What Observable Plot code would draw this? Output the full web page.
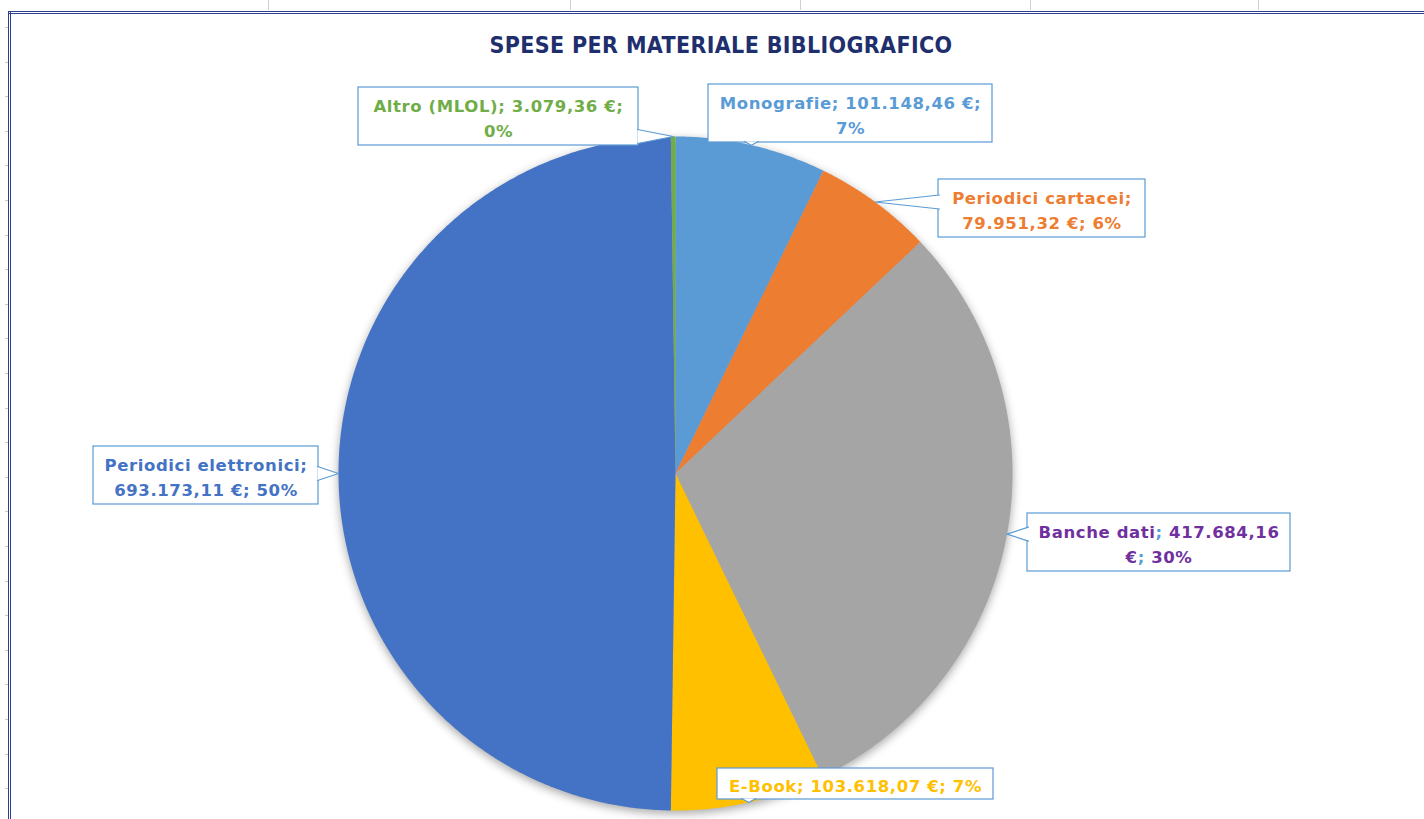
<!DOCTYPE html>
<html>
<head>
<meta charset="utf-8">
<script src="https://cdn.jsdelivr.net/npm/d3@7"></script>
<script src="https://cdn.jsdelivr.net/npm/@observablehq/plot@0.6"></script>
<style>
  html, body { margin: 0; padding: 0; background: #fff; }
  #wrap { position: relative; width: 1424px; height: 819px; overflow: hidden; }
  #wrap svg { display: block; }
  #title { position: absolute; left: 0; width: 1442px; top: 32px; text-align: center;
    font-family: "DejaVu Sans Condensed", "DejaVu Sans", sans-serif; font-weight: bold;
    font-size: 23px; color: #1F2F6E; letter-spacing: 0.35px; }
  .frameTop { position: absolute; left: 9px; right: 0; top: 11px; height: 3px; border-top: 1px solid #2E3F8F; border-bottom: 1px solid #2E3F8F; box-sizing: border-box; }
  .frameLeft { position: absolute; left: 8px; top: 11px; bottom: 0; width: 3px; border-left: 1px solid #2E3F8F; border-right: 1px solid #2E3F8F; box-sizing: border-box; }
  .gridV { position: absolute; top: 0; height: 10px; width: 1px; background: #d0d0d0; }
  .gridH { position: absolute; left: 5px; width: 4px; height: 1px; background: #c8c8c8; }
</style>
</head>
<body>
<div id="wrap"></div>
<script>
// ---- data ----
const categories = ["Monografie", "Periodici cartacei", "Banche dati", "E-Book", "Periodici elettronici", "Altro (MLOL)"];
const values = [101148.46, 79951.32, 417684.16, 103618.07, 693173.11, 3079.36];
const sliceColors = ["#5B9BD5", "#ED7D31", "#A5A5A5", "#FFC000", "#4472C4", "#70AD47"];
const labelColors = ["#5B9BD5", "#ED7D31", "#7030A0", "#FFC000", "#4472C4", "#70AD47"];
const separatorColors = ["#5B9BD5", "#ED7D31", "#5B9BD5", "#FFC000", "#4472C4", "#70AD47"];
const titleText = "SPESE PER MATERIALE BIBLIOGRAFICO";

// ---- layout (pixels) ----
const W = 1424, H = 819;
const pie = {cx: 675, cy: 473, r: 337};
// label boxes [x1, y1, x2, y2] and word-wrap position
const labelBoxes = [
  [708, 84, 992, 142],
  [938, 179, 1145, 237],
  [1027, 513, 1290, 571],
  [717, 768, 993, 799],
  [93, 446, 318, 504],
  [358, 87, 638, 145]
];
const labelBreaks = [2, 1, "num", -1, 1, 2];

// ---- computations ----
const total = d3.sum(values);
const loc = d3.formatLocale({decimal: ",", thousands: ".", grouping: [3], currency: ["", ""]});
const fmt = loc.format(",.2f");
const arcs = d3.pie().sort(null).startAngle(0).endAngle(2 * Math.PI)(values);
const px = (a, rr) => pie.cx + rr * Math.sin(a);
const py = (a, rr) => pie.cy - rr * Math.cos(a);

const slicePts = [];
arcs.forEach((a, i) => {
  const n = Math.max(2, Math.ceil((a.endAngle - a.startAngle) / (Math.PI / 360)));
  slicePts.push({k: i, x: pie.cx, y: pie.cy, c: sliceColors[i]});
  for (let j = 0; j <= n; j++) {
    const t = a.startAngle + (a.endAngle - a.startAngle) * j / n;
    slicePts.push({k: i, x: px(t, pie.r), y: py(t, pie.r), c: sliceColors[i]});
  }
  slicePts.push({k: i, x: pie.cx, y: pie.cy, c: sliceColors[i]});
});

const labels = arcs.map((a, i) => {
  const pct = Math.round(values[i] / total * 100) + "%";
  const val = fmt(values[i]) + " €";
  const parts = [categories[i], val, pct];
  let text;
  const b = labelBreaks[i];
  if (b === "num") text = categories[i] + "; " + fmt(values[i]) + "\n€; " + pct;
  else if (b === -1) text = parts.join("; ");
  else text = parts.slice(0, b).join("; ") + ";\n" + parts.slice(b).join("; ");
  const [x1, y1, x2, y2] = labelBoxes[i];
  const mid = (a.startAngle + a.endAngle) / 2;
  const tip = [px(mid, pie.r), py(mid, pie.r)];
  const nx = Math.min(Math.max(tip[0], x1), x2), ny = Math.min(Math.max(tip[1], y1), y2);
  let base;
  const hw = 7;
  if (nx === x1 || nx === x2) {
    const yy = Math.min(Math.max(ny, y1 + hw), y2 - hw);
    const xin = nx === x1 ? x1 + 1 : x2 - 1;
    base = [[xin, yy - hw], [xin, yy + hw]];
  } else {
    const xx = Math.min(Math.max(nx, x1 + hw), x2 - hw);
    const yin = ny === y1 ? y1 + 1 : y2 - 1;
    base = [[xx - hw, yin], [xx + hw, yin]];
  }
  return {i, text, color: labelColors[i], x1, y1, x2, y2, cx: (x1 + x2) / 2, cy: (y1 + y2) / 2, tip, base};
});
const wedgePts = labels.flatMap(l => [
  {k: l.i, x: l.base[0][0], y: l.base[0][1]},
  {k: l.i, x: l.tip[0], y: l.tip[1]},
  {k: l.i, x: l.base[1][0], y: l.base[1][1]}
]);

const font = "'DejaVu Sans', sans-serif";
const chart = Plot.plot({
  width: W, height: H,
  margin: 0,
  x: {domain: [0, W], range: [0, W], axis: null},
  y: {domain: [0, H], range: [0, H], axis: null},
  marks: [
    Plot.line(slicePts, {x: "x", y: "y", z: "k", fill: "c", stroke: "none", curve: "linear"}),
    Plot.rect(labels, {x1: "x1", x2: "x2", y1: "y1", y2: "y2", fill: "white", stroke: "#5B9BD5", strokeWidth: 1.2}),
    Plot.line(wedgePts, {x: "x", y: "y", z: "k", fill: "white", stroke: "#5B9BD5", strokeWidth: 1.2, curve: "linear"}),
    Plot.text(labels, {x: "cx", y: "cy", text: "text", fill: "color", fontSize: 16.5, fontWeight: "bold",
      fontFamily: font, lineHeight: 1.5, textAnchor: "middle", lineAnchor: "middle"})
  ]
});
const wrap = document.getElementById("wrap");
[268, 570, 800, 1030, 1258].forEach(x => { const d = document.createElement("div"); d.className = "gridV"; d.style.left = x + "px"; wrap.appendChild(d); });
for (let y = 27; y < H; y += 34.6) { const d = document.createElement("div"); d.className = "gridH"; d.style.top = Math.round(y) + "px"; wrap.appendChild(d); }
wrap.appendChild(chart);
const ft = document.createElement("div"); ft.className = "frameTop"; wrap.appendChild(ft);
const fl = document.createElement("div"); fl.className = "frameLeft"; wrap.appendChild(fl);
const t = document.createElement("div"); t.id = "title"; t.textContent = titleText; wrap.appendChild(t);
chart.style.position = "absolute"; chart.style.left = "0"; chart.style.top = "0";
const pieG = chart.querySelector('g[aria-label="line"]');
if (pieG) pieG.style.filter = "drop-shadow(0px 3px 5px rgba(0,0,0,0.35))";
const textG = chart.querySelector('g[aria-label="text"]');
if (textG) {
  textG.style.letterSpacing = "0.6px";
  // colour the "; " separators of each label like Excel does
  textG.querySelectorAll("text").forEach((el, i) => {
    const sc = separatorColors[i];
    const targets = el.querySelectorAll("tspan").length ? el.querySelectorAll("tspan") : [el];
    targets.forEach(node => {
      const s = node.textContent;
      if (!s.includes(";")) return;
      node.textContent = "";
      s.split(/(;)/).forEach(piece => {
        const ts = document.createElementNS("http://www.w3.org/2000/svg", "tspan");
        ts.textContent = piece;
        if (piece === ";") ts.setAttribute("fill", sc);
        node.appendChild(ts);
      });
    });
  });
}
</script>
</body>
</html>
